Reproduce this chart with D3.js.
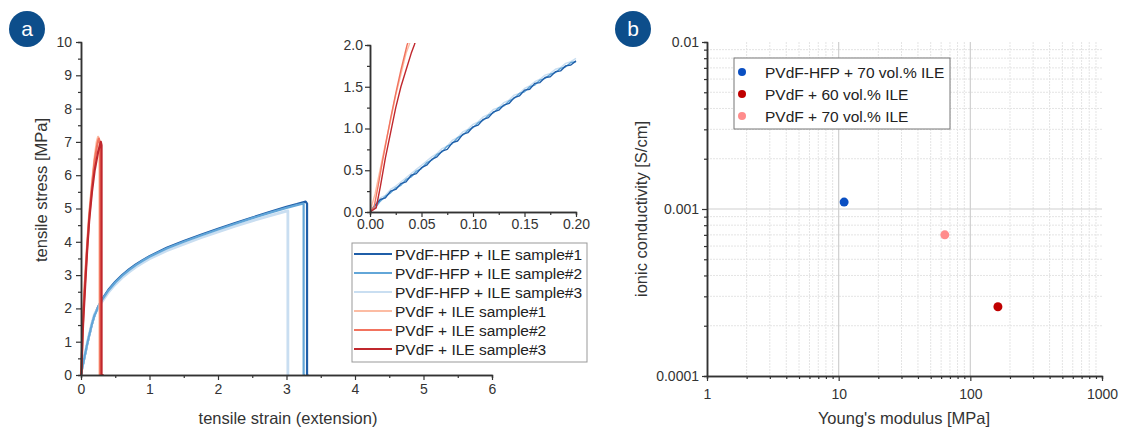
<!DOCTYPE html>
<html>
<head>
<meta charset="utf-8">
<script src="https://cdn.jsdelivr.net/npm/d3@7"></script>
<style>
body { margin: 0; background: #fff; }
svg { font-family: "Liberation Sans", Arial, sans-serif; }
</style>
</head>
<body>
<svg id="chart" width="1147" height="429"></svg>
<script>
// ---------------- data ----------------
// stress-strain curves, [strain, stress MPa]
const hfp1 = [[0,0],[0.005,0.08],[0.01,0.15],[0.015,0.17],[0.02,0.25],[0.025,0.27],[0.03,0.34],[0.035,0.36],[0.04,0.44],[0.045,0.46],[0.05,0.53],[0.055,0.56],[0.06,0.63],[0.065,0.66],[0.07,0.73],[0.075,0.75],[0.08,0.83],[0.085,0.85],[0.09,0.93],[0.095,0.95],[0.1,1.02],[0.105,1.04],[0.11,1.11],[0.115,1.13],[0.12,1.2],[0.125,1.22],[0.13,1.28],[0.135,1.3],[0.14,1.37],[0.145,1.39],[0.15,1.46],[0.155,1.47],[0.16,1.54],[0.165,1.55],[0.17,1.61],[0.175,1.62],[0.18,1.68],[0.185,1.69],[0.19,1.75],[0.195,1.76],[0.2,1.81],[0.25,2.05],[0.3,2.25],[0.4,2.56],[0.5,2.8],[0.6,3.0],[0.7,3.17],[0.8,3.32],[0.9,3.45],[1.0,3.57],[1.25,3.82],[1.5,4.02],[1.75,4.21],[2.0,4.39],[2.25,4.56],[2.5,4.73],[2.75,4.89],[3.0,5.05],[3.15,5.13],[3.28,5.21],[3.3,5.15],[3.3,0],[3.32,0]];
const hfp2 = [[0,0],[0.005,0.05],[0.01,0.13],[0.015,0.19],[0.02,0.23],[0.025,0.29],[0.03,0.32],[0.035,0.39],[0.04,0.42],[0.045,0.49],[0.05,0.52],[0.055,0.59],[0.06,0.62],[0.065,0.69],[0.07,0.72],[0.075,0.79],[0.08,0.82],[0.085,0.89],[0.09,0.92],[0.095,0.98],[0.1,1.01],[0.105,1.07],[0.11,1.1],[0.115,1.16],[0.12,1.19],[0.125,1.25],[0.13,1.27],[0.135,1.33],[0.14,1.36],[0.145,1.42],[0.15,1.44],[0.155,1.5],[0.16,1.52],[0.165,1.58],[0.17,1.6],[0.175,1.65],[0.18,1.67],[0.185,1.72],[0.19,1.74],[0.195,1.79],[0.2,1.8],[0.25,2.03],[0.3,2.23],[0.4,2.54],[0.5,2.78],[0.6,2.98],[0.7,3.15],[0.8,3.3],[0.9,3.43],[1.0,3.55],[1.25,3.8],[1.5,4.0],[1.75,4.19],[2.0,4.37],[2.25,4.54],[2.5,4.71],[2.75,4.87],[3.0,5.02],[3.15,5.1],[3.25,5.15],[3.25,0],[3.27,0]];
const hfp3 = [[0,0],[0.005,0.1],[0.01,0.17],[0.015,0.2],[0.02,0.27],[0.025,0.31],[0.03,0.36],[0.035,0.41],[0.04,0.46],[0.045,0.51],[0.05,0.56],[0.055,0.61],[0.06,0.66],[0.065,0.7],[0.07,0.76],[0.075,0.79],[0.08,0.86],[0.085,0.89],[0.09,0.96],[0.095,0.99],[0.1,1.05],[0.105,1.08],[0.11,1.14],[0.115,1.17],[0.12,1.23],[0.125,1.25],[0.13,1.31],[0.135,1.34],[0.14,1.4],[0.145,1.42],[0.15,1.48],[0.155,1.51],[0.16,1.56],[0.165,1.59],[0.17,1.64],[0.175,1.66],[0.18,1.71],[0.185,1.73],[0.19,1.78],[0.195,1.8],[0.2,1.84],[0.25,2.0],[0.3,2.18],[0.4,2.48],[0.5,2.72],[0.6,2.92],[0.7,3.09],[0.8,3.24],[0.9,3.37],[1.0,3.49],[1.25,3.73],[1.5,3.93],[1.75,4.12],[2.0,4.3],[2.25,4.47],[2.5,4.63],[2.75,4.78],[3.0,4.92],[3.02,4.93],[3.02,0],[3.04,0]];
const pvdf1 = [[0,0],[0.005,0.22],[0.01,0.52],[0.015,0.82],[0.02,1.1],[0.025,1.4],[0.03,1.65],[0.035,1.9],[0.038,2.0],[0.06,2.95],[0.09,3.95],[0.12,4.85],[0.16,5.75],[0.2,6.55],[0.23,7.0],[0.25,7.15],[0.27,7.0],[0.27,0],[0.3,0]];
const pvdf2 = [[0,0],[0.004,0.06],[0.008,0.32],[0.012,0.6],[0.016,0.86],[0.02,1.12],[0.025,1.42],[0.03,1.7],[0.036,2.0],[0.06,2.85],[0.09,3.85],[0.12,4.75],[0.16,5.65],[0.2,6.45],[0.24,6.95],[0.26,7.1],[0.28,6.95],[0.28,0],[0.31,0]];
const pvdf3 = [[0,0],[0.006,0.05],[0.01,0.3],[0.015,0.65],[0.02,0.95],[0.025,1.25],[0.03,1.5],[0.035,1.7],[0.04,1.9],[0.043,2.0],[0.06,2.65],[0.09,3.75],[0.12,4.65],[0.16,5.5],[0.2,6.15],[0.25,6.7],[0.29,7.0],[0.3,6.9],[0.3,0],[0.33,0]];

const seriesNames = ['PVdF-HFP + ILE sample#1','PVdF-HFP + ILE sample#2','PVdF-HFP + ILE sample#3','PVdF + ILE sample#1','PVdF + ILE sample#2','PVdF + ILE sample#3'];
const seriesColors = ['#1f5ea8','#62a6d8','#c9def1','#fcbca3','#f2735e','#c0272d'];
const seriesData = [hfp1, hfp2, hfp3, pvdf1, pvdf2, pvdf3];
const mainOrder = [0, 2, 1, 3, 4, 5];
const insetOrder = [2, 1, 0, 3, 4, 5];

// young's modulus vs ionic conductivity
const pointNames = ['PVdF-HFP + 70 vol.% ILE','PVdF + 60 vol.% ILE','PVdF + 70 vol.% ILE'];
const modulus = [11, 162, 64];
const conductivity = [0.0011, 0.00026, 0.0007];
const pointColors = ['#0a4fc2','#c00000','#ff8c8c'];

const axisColor = '#333';
const font = '"Liberation Sans", Arial, sans-serif';
const svg = d3.select('#chart');

// ---------------- badges ----------------
function badge(cx, cy, label) {
    svg.append('circle').attr('cx', cx).attr('cy', cy).attr('r', 18).attr('fill', '#0d4e8b');
    svg.append('text').attr('x', cx).attr('y', cy + 7).attr('text-anchor', 'middle')
        .attr('fill', 'white').attr('font-size', 21).text(label);
}
badge(27, 29, 'a');
badge(633, 29, 'b');

function styleAxis(g) {
    g.attr('font-family', font).attr('font-size', 14);
    g.select('.domain').attr('stroke', axisColor).attr('stroke-width', 1.5);
    g.selectAll('.tick line').attr('stroke', axisColor).attr('stroke-width', 1.2);
    g.selectAll('.tick text').attr('fill', axisColor);
}

// ---------------- panel a ----------------
const xA = d3.scaleLinear().domain([0, 6]).range([81, 492]);
const yA = d3.scaleLinear().domain([0, 10]).range([375, 42]);

const lineA = d3.line().x(d => xA(d[0])).y(d => yA(d[1]));
const mainG = svg.append('g');
mainOrder.forEach(i => {
    mainG.append('path').datum(seriesData[i])
        .attr('fill', 'none').attr('stroke', seriesColors[i])
        .attr('stroke-width', i === 2 ? 2.8 : 2.2).attr('stroke-linejoin', 'round')
        .attr('d', lineA);
});

// minor ticks
svg.append('g').attr('transform', 'translate(0,375)')
    .call(d3.axisBottom(xA).tickValues(d3.range(0.5, 6, 1)).tickSize(3).tickFormat(''))
    .call(styleAxis);
svg.append('g').attr('transform', 'translate(81,0)')
    .call(d3.axisLeft(yA).tickValues(d3.range(0.5, 10, 1)).tickSize(3).tickFormat(''))
    .call(styleAxis);
svg.append('g').attr('transform', 'translate(0,375)')
    .call(d3.axisBottom(xA).tickValues(d3.range(0, 7, 1)).tickSize(5).tickPadding(4).tickSizeOuter(0).tickFormat(d3.format('d')))
    .call(styleAxis);
svg.append('g').attr('transform', 'translate(81,0)')
    .call(d3.axisLeft(yA).tickValues(d3.range(0, 11, 1)).tickSize(5).tickPadding(4).tickSizeOuter(0).tickFormat(d3.format('d')))
    .call(styleAxis);

svg.append('text').attr('x', 288).attr('y', 424).attr('text-anchor', 'middle')
    .attr('font-size', 16.5).attr('fill', axisColor).text('tensile strain (extension)');
svg.append('text').attr('transform', 'translate(47,190) rotate(-90)').attr('text-anchor', 'middle')
    .attr('font-size', 16.5).attr('fill', axisColor).text('tensile stress [MPa]');

// inset
const xI = d3.scaleLinear().domain([0, 0.2]).range([370, 576]);
const yI = d3.scaleLinear().domain([0, 2]).range([212, 45]);
svg.append('clipPath').attr('id', 'insetClip').append('rect')
    .attr('x', 370).attr('y', 43).attr('width', 212).attr('height', 170);
const lineI = d3.line().x(d => xI(d[0])).y(d => yI(d[1]));
const insetG = svg.append('g').attr('clip-path', 'url(#insetClip)');
insetOrder.forEach(i => {
    insetG.append('path').datum(seriesData[i].filter(d => d[0] <= 0.21))
        .attr('fill', 'none').attr('stroke', seriesColors[i])
        .attr('stroke-width', 1.4).attr('stroke-linejoin', 'round')
        .attr('d', lineI);
});
svg.append('g').attr('transform', 'translate(0,212)')
    .call(d3.axisBottom(xI).tickValues(d3.range(0.025, 0.2, 0.05)).tickSize(3).tickFormat(''))
    .call(styleAxis);
svg.append('g').attr('transform', 'translate(370,0)')
    .call(d3.axisLeft(yI).tickValues(d3.range(0.25, 2, 0.5)).tickSize(3).tickFormat(''))
    .call(styleAxis);
svg.append('g').attr('transform', 'translate(0,212)')
    .call(d3.axisBottom(xI).tickValues([0, 0.05, 0.1, 0.15, 0.2]).tickSize(5).tickPadding(2).tickSizeOuter(0).tickFormat(d3.format('.2f')))
    .call(styleAxis);
svg.append('g').attr('transform', 'translate(370,0)')
    .call(d3.axisLeft(yI).tickValues([0, 0.5, 1, 1.5, 2]).tickSize(5).tickPadding(2).tickSizeOuter(0).tickFormat(d3.format('.1f')))
    .call(styleAxis);

// legend a
const legA = svg.append('g').attr('transform', 'translate(352,243)');
legA.append('rect').attr('width', 235).attr('height', 119)
    .attr('fill', 'white').attr('stroke', '#999').attr('stroke-width', 1);
seriesNames.forEach((name, i) => {
    const row = legA.append('g').attr('transform', 'translate(0,' + (11 + i * 19) + ')');
    row.append('line').attr('x1', 2).attr('x2', 40).attr('y1', 0).attr('y2', 0)
        .attr('stroke', seriesColors[i]).attr('stroke-width', 2);
    row.append('text').attr('x', 43).attr('y', 5.5).attr('font-size', 15.5)
        .attr('fill', '#222').text(name);
});

// ---------------- panel b ----------------
const xB = d3.scaleLog().domain([1, 1000]).range([707, 1102]);
const yB = d3.scaleLog().domain([1e-4, 1e-2]).range([376, 42]);

const xMinor = [], yMinor = [];
[1, 10, 100].forEach(dec => d3.range(2, 10).forEach(k => xMinor.push(dec * k)));
[1e-4, 1e-3].forEach(dec => d3.range(2, 10).forEach(k => yMinor.push(dec * k)));

const gridG = svg.append('g');
gridG.selectAll('.vmin').data(xMinor).enter().append('line')
    .attr('x1', d => xB(d)).attr('x2', d => xB(d)).attr('y1', 42).attr('y2', 376)
    .attr('stroke', '#e4e4e4').attr('stroke-dasharray', '2,1');
gridG.selectAll('.hmin').data(yMinor).enter().append('line')
    .attr('x1', 707).attr('x2', 1102).attr('y1', d => yB(d)).attr('y2', d => yB(d))
    .attr('stroke', '#e4e4e4').attr('stroke-dasharray', '2,1');
gridG.selectAll('.vmaj').data([10, 100]).enter().append('line')
    .attr('x1', d => xB(d)).attr('x2', d => xB(d)).attr('y1', 42).attr('y2', 376)
    .attr('stroke', '#cfcfcf').attr('stroke-width', 1.2);
gridG.selectAll('.hmaj').data([1e-3]).enter().append('line')
    .attr('x1', 707).attr('x2', 1102).attr('y1', d => yB(d)).attr('y2', d => yB(d))
    .attr('stroke', '#cfcfcf').attr('stroke-width', 1.2);

svg.append('g').attr('transform', 'translate(0,376)')
    .call(d3.axisBottom(xB).tickValues(xMinor).tickSize(3).tickFormat(''))
    .call(styleAxis);
svg.append('g').attr('transform', 'translate(707,0)')
    .call(d3.axisLeft(yB).tickValues(yMinor).tickSize(3).tickFormat(''))
    .call(styleAxis);
svg.append('g').attr('transform', 'translate(0,376)')
    .call(d3.axisBottom(xB).tickValues([1, 10, 100, 1000]).tickSize(5).tickPadding(8).tickSizeOuter(0).tickFormat(d3.format('d')))
    .call(styleAxis);
svg.append('g').attr('transform', 'translate(707,0)')
    .call(d3.axisLeft(yB).tickValues([1e-4, 1e-3, 1e-2]).tickSize(5).tickPadding(3).tickSizeOuter(0).tickFormat(d => String(+d.toPrecision(1))))
    .call(styleAxis);

svg.selectAll('.pt').data(modulus).enter().append('circle')
    .attr('cx', d => xB(d)).attr('cy', (d, i) => yB(conductivity[i]))
    .attr('r', 4.5).attr('fill', (d, i) => pointColors[i]);

svg.append('text').attr('x', 904).attr('y', 424).attr('text-anchor', 'middle')
    .attr('font-size', 16.5).attr('fill', axisColor).text("Young's modulus [MPa]");
svg.append('text').attr('transform', 'translate(647,209) rotate(-90)').attr('text-anchor', 'middle')
    .attr('font-size', 16.5).attr('fill', axisColor).text('ionic conductivity [S/cm]');

// legend b
const legB = svg.append('g').attr('transform', 'translate(734,58)');
legB.append('rect').attr('width', 216).attr('height', 71)
    .attr('fill', 'white').attr('stroke', '#777').attr('stroke-width', 1);
pointNames.forEach((name, i) => {
    const row = legB.append('g').attr('transform', 'translate(0,' + (14 + i * 22) + ')');
    row.append('circle').attr('cx', 8).attr('cy', 0).attr('r', 4).attr('fill', pointColors[i]);
    row.append('text').attr('x', 31).attr('y', 5.5).attr('font-size', 15.5)
        .attr('fill', '#222').text(name);
});
</script>
</body>
</html>
